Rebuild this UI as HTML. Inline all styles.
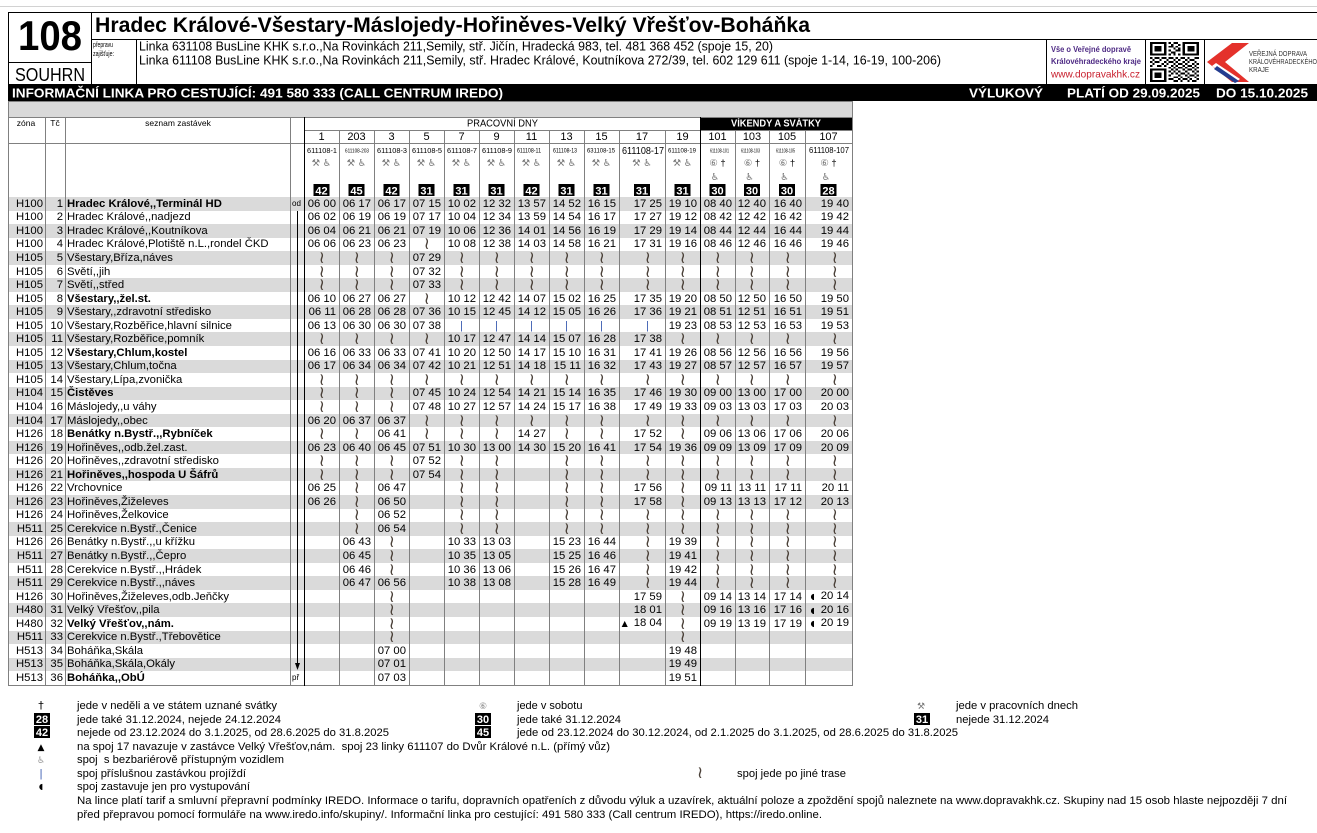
<!DOCTYPE html>
<html><head><meta charset="utf-8">
<style>
html,body{margin:0;padding:0}
body{width:1317px;height:833px;position:relative;background:#fff;overflow:hidden;font-family:"Liberation Sans","DejaVu Sans","Noto Sans CJK JP",sans-serif;color:#000}
table.t{position:absolute;left:8px;top:197px;width:844px;border-collapse:collapse;border-spacing:0;table-layout:fixed;font-size:11.3px;line-height:12px}
.t td{padding:0 3px 0 0;height:13.556px;text-align:right;white-space:nowrap;vertical-align:middle;overflow:visible}
.t tr:nth-child(odd){background:#dadada}
.t td.z{padding-right:2px}
.t td.n{padding-right:2px}
.t td.s{text-align:left;padding-left:2px;padding-right:0}
.t td.o{text-align:left;padding-left:2px;font-size:8px}
.t td.c{padding-right:14px;font-size:17px;line-height:12px;font-family:"DejaVu Sans","Liberation Sans",sans-serif;color:#4a4038}
.t td.p{padding-right:16px;color:#3a5bb0;font-size:11px}
.t b{font-weight:bold}
.h{font-size:8px;margin-right:6px;font-family:"DejaVu Sans",sans-serif}
.tri{font-size:8px;margin-right:6px;font-family:"DejaVu Sans",sans-serif}
svg.o{position:absolute;left:0;top:0}
svg text{font-family:"Liberation Sans","DejaVu Sans","Noto Sans CJK JP",sans-serif}
.sym{font-family:"DejaVu Sans","Noto Sans CJK JP",sans-serif}
</style></head><body>

<table class="t">
<colgroup><col style="width:37px"><col style="width:20px"><col style="width:225px"><col style="width:14px"><col style="width:35px"><col style="width:35px"><col style="width:35px"><col style="width:35px"><col style="width:35px"><col style="width:35px"><col style="width:35px"><col style="width:35px"><col style="width:35px"><col style="width:46px"><col style="width:35px"><col style="width:35px"><col style="width:34px"><col style="width:36px"><col style="width:47px"></colgroup>
<tr><td class=z>H100<td class=n>1<td class=s><b>Hradec Králové,,Terminál HD</b><td class=o>od<td>06 00<td>06 17<td>06 17<td>07 15<td>10 02<td>12 32<td>13 57<td>14 52<td>16 15<td>17 25<td>19 10<td>08 40<td>12 40<td>16 40<td>19 40</tr>
<tr><td class=z>H100<td class=n>2<td class=s>Hradec Králové,,nadjezd<td class=o><td>06 02<td>06 19<td>06 19<td>07 17<td>10 04<td>12 34<td>13 59<td>14 54<td>16 17<td>17 27<td>19 12<td>08 42<td>12 42<td>16 42<td>19 42</tr>
<tr><td class=z>H100<td class=n>3<td class=s>Hradec Králové,,Koutníkova<td class=o><td>06 04<td>06 21<td>06 21<td>07 19<td>10 06<td>12 36<td>14 01<td>14 56<td>16 19<td>17 29<td>19 14<td>08 44<td>12 44<td>16 44<td>19 44</tr>
<tr><td class=z>H100<td class=n>4<td class=s>Hradec Králové,Plotiště n.L.,rondel ČKD<td class=o><td>06 06<td>06 23<td>06 23<td class=c>≀<td>10 08<td>12 38<td>14 03<td>14 58<td>16 21<td>17 31<td>19 16<td>08 46<td>12 46<td>16 46<td>19 46</tr>
<tr><td class=z>H105<td class=n>5<td class=s>Všestary,Bříza,náves<td class=o><td class=c>≀<td class=c>≀<td class=c>≀<td>07 29<td class=c>≀<td class=c>≀<td class=c>≀<td class=c>≀<td class=c>≀<td class=c>≀<td class=c>≀<td class=c>≀<td class=c>≀<td class=c>≀<td class=c>≀</tr>
<tr><td class=z>H105<td class=n>6<td class=s>Světí,,jih<td class=o><td class=c>≀<td class=c>≀<td class=c>≀<td>07 32<td class=c>≀<td class=c>≀<td class=c>≀<td class=c>≀<td class=c>≀<td class=c>≀<td class=c>≀<td class=c>≀<td class=c>≀<td class=c>≀<td class=c>≀</tr>
<tr><td class=z>H105<td class=n>7<td class=s>Světí,,střed<td class=o><td class=c>≀<td class=c>≀<td class=c>≀<td>07 33<td class=c>≀<td class=c>≀<td class=c>≀<td class=c>≀<td class=c>≀<td class=c>≀<td class=c>≀<td class=c>≀<td class=c>≀<td class=c>≀<td class=c>≀</tr>
<tr><td class=z>H105<td class=n>8<td class=s><b>Všestary,,žel.st.</b><td class=o><td>06 10<td>06 27<td>06 27<td class=c>≀<td>10 12<td>12 42<td>14 07<td>15 02<td>16 25<td>17 35<td>19 20<td>08 50<td>12 50<td>16 50<td>19 50</tr>
<tr><td class=z>H105<td class=n>9<td class=s>Všestary,,zdravotní středisko<td class=o><td>06 11<td>06 28<td>06 28<td>07 36<td>10 15<td>12 45<td>14 12<td>15 05<td>16 26<td>17 36<td>19 21<td>08 51<td>12 51<td>16 51<td>19 51</tr>
<tr><td class=z>H105<td class=n>10<td class=s>Všestary,Rozběřice,hlavní silnice<td class=o><td>06 13<td>06 30<td>06 30<td>07 38<td class=p>|<td class=p>|<td class=p>|<td class=p>|<td class=p>|<td class=p>|<td>19 23<td>08 53<td>12 53<td>16 53<td>19 53</tr>
<tr><td class=z>H105<td class=n>11<td class=s>Všestary,Rozběřice,pomník<td class=o><td class=c>≀<td class=c>≀<td class=c>≀<td class=c>≀<td>10 17<td>12 47<td>14 14<td>15 07<td>16 28<td>17 38<td class=c>≀<td class=c>≀<td class=c>≀<td class=c>≀<td class=c>≀</tr>
<tr><td class=z>H105<td class=n>12<td class=s><b>Všestary,Chlum,kostel</b><td class=o><td>06 16<td>06 33<td>06 33<td>07 41<td>10 20<td>12 50<td>14 17<td>15 10<td>16 31<td>17 41<td>19 26<td>08 56<td>12 56<td>16 56<td>19 56</tr>
<tr><td class=z>H105<td class=n>13<td class=s>Všestary,Chlum,točna<td class=o><td>06 17<td>06 34<td>06 34<td>07 42<td>10 21<td>12 51<td>14 18<td>15 11<td>16 32<td>17 43<td>19 27<td>08 57<td>12 57<td>16 57<td>19 57</tr>
<tr><td class=z>H105<td class=n>14<td class=s>Všestary,Lípa,zvonička<td class=o><td class=c>≀<td class=c>≀<td class=c>≀<td class=c>≀<td class=c>≀<td class=c>≀<td class=c>≀<td class=c>≀<td class=c>≀<td class=c>≀<td class=c>≀<td class=c>≀<td class=c>≀<td class=c>≀<td class=c>≀</tr>
<tr><td class=z>H104<td class=n>15<td class=s><b>Čistěves</b><td class=o><td class=c>≀<td class=c>≀<td class=c>≀<td>07 45<td>10 24<td>12 54<td>14 21<td>15 14<td>16 35<td>17 46<td>19 30<td>09 00<td>13 00<td>17 00<td>20 00</tr>
<tr><td class=z>H104<td class=n>16<td class=s>Máslojedy,,u váhy<td class=o><td class=c>≀<td class=c>≀<td class=c>≀<td>07 48<td>10 27<td>12 57<td>14 24<td>15 17<td>16 38<td>17 49<td>19 33<td>09 03<td>13 03<td>17 03<td>20 03</tr>
<tr><td class=z>H104<td class=n>17<td class=s>Máslojedy,,obec<td class=o><td>06 20<td>06 37<td>06 37<td class=c>≀<td class=c>≀<td class=c>≀<td class=c>≀<td class=c>≀<td class=c>≀<td class=c>≀<td class=c>≀<td class=c>≀<td class=c>≀<td class=c>≀<td class=c>≀</tr>
<tr><td class=z>H126<td class=n>18<td class=s><b>Benátky n.Bystř.,,Rybníček</b><td class=o><td class=c>≀<td class=c>≀<td>06 41<td class=c>≀<td class=c>≀<td class=c>≀<td>14 27<td class=c>≀<td class=c>≀<td>17 52<td class=c>≀<td>09 06<td>13 06<td>17 06<td>20 06</tr>
<tr><td class=z>H126<td class=n>19<td class=s>Hořiněves,,odb.žel.zast.<td class=o><td>06 23<td>06 40<td>06 45<td>07 51<td>10 30<td>13 00<td>14 30<td>15 20<td>16 41<td>17 54<td>19 36<td>09 09<td>13 09<td>17 09<td>20 09</tr>
<tr><td class=z>H126<td class=n>20<td class=s>Hořiněves,,zdravotní středisko<td class=o><td class=c>≀<td class=c>≀<td class=c>≀<td>07 52<td class=c>≀<td class=c>≀<td><td class=c>≀<td class=c>≀<td class=c>≀<td class=c>≀<td class=c>≀<td class=c>≀<td class=c>≀<td class=c>≀</tr>
<tr><td class=z>H126<td class=n>21<td class=s><b>Hořiněves,,hospoda U Šáfrů</b><td class=o><td class=c>≀<td class=c>≀<td class=c>≀<td>07 54<td class=c>≀<td class=c>≀<td><td class=c>≀<td class=c>≀<td class=c>≀<td class=c>≀<td class=c>≀<td class=c>≀<td class=c>≀<td class=c>≀</tr>
<tr><td class=z>H126<td class=n>22<td class=s>Vrchovnice<td class=o><td>06 25<td class=c>≀<td>06 47<td><td class=c>≀<td class=c>≀<td><td class=c>≀<td class=c>≀<td>17 56<td class=c>≀<td>09 11<td>13 11<td>17 11<td>20 11</tr>
<tr><td class=z>H126<td class=n>23<td class=s>Hořiněves,Žiželeves<td class=o><td>06 26<td class=c>≀<td>06 50<td><td class=c>≀<td class=c>≀<td><td class=c>≀<td class=c>≀<td>17 58<td class=c>≀<td>09 13<td>13 13<td>17 12<td>20 13</tr>
<tr><td class=z>H126<td class=n>24<td class=s>Hořiněves,Želkovice<td class=o><td><td class=c>≀<td>06 52<td><td class=c>≀<td class=c>≀<td><td class=c>≀<td class=c>≀<td class=c>≀<td class=c>≀<td class=c>≀<td class=c>≀<td class=c>≀<td class=c>≀</tr>
<tr><td class=z>H511<td class=n>25<td class=s>Cerekvice n.Bystř.,Čenice<td class=o><td><td class=c>≀<td>06 54<td><td class=c>≀<td class=c>≀<td><td class=c>≀<td class=c>≀<td class=c>≀<td class=c>≀<td class=c>≀<td class=c>≀<td class=c>≀<td class=c>≀</tr>
<tr><td class=z>H126<td class=n>26<td class=s>Benátky n.Bystř.,,u křížku<td class=o><td><td>06 43<td class=c>≀<td><td>10 33<td>13 03<td><td>15 23<td>16 44<td class=c>≀<td>19 39<td class=c>≀<td class=c>≀<td class=c>≀<td class=c>≀</tr>
<tr><td class=z>H511<td class=n>27<td class=s>Benátky n.Bystř.,,Čepro<td class=o><td><td>06 45<td class=c>≀<td><td>10 35<td>13 05<td><td>15 25<td>16 46<td class=c>≀<td>19 41<td class=c>≀<td class=c>≀<td class=c>≀<td class=c>≀</tr>
<tr><td class=z>H511<td class=n>28<td class=s>Cerekvice n.Bystř.,,Hrádek<td class=o><td><td>06 46<td class=c>≀<td><td>10 36<td>13 06<td><td>15 26<td>16 47<td class=c>≀<td>19 42<td class=c>≀<td class=c>≀<td class=c>≀<td class=c>≀</tr>
<tr><td class=z>H511<td class=n>29<td class=s>Cerekvice n.Bystř.,,náves<td class=o><td><td>06 47<td>06 56<td><td>10 38<td>13 08<td><td>15 28<td>16 49<td class=c>≀<td>19 44<td class=c>≀<td class=c>≀<td class=c>≀<td class=c>≀</tr>
<tr><td class=z>H126<td class=n>30<td class=s>Hořiněves,Žiželeves,odb.Jeňčky<td class=o><td><td><td class=c>≀<td><td><td><td><td><td><td>17 59<td class=c>≀<td>09 14<td>13 14<td>17 14<td><span class=h>◖</span>20 14</tr>
<tr><td class=z>H480<td class=n>31<td class=s>Velký Vřešťov,,pila<td class=o><td><td><td class=c>≀<td><td><td><td><td><td><td>18 01<td class=c>≀<td>09 16<td>13 16<td>17 16<td><span class=h>◖</span>20 16</tr>
<tr><td class=z>H480<td class=n>32<td class=s><b>Velký Vřešťov,,nám.</b><td class=o><td><td><td class=c>≀<td><td><td><td><td><td><td><span class=tri>▲</span>18 04<td class=c>≀<td>09 19<td>13 19<td>17 19<td><span class=h>◖</span>20 19</tr>
<tr><td class=z>H511<td class=n>33<td class=s>Cerekvice n.Bystř.,Třebovětice<td class=o><td><td><td class=c>≀<td><td><td><td><td><td><td><td class=c>≀<td><td><td><td></tr>
<tr><td class=z>H513<td class=n>34<td class=s>Boháňka,Skála<td class=o><td><td><td>07 00<td><td><td><td><td><td><td><td>19 48<td><td><td><td></tr>
<tr><td class=z>H513<td class=n>35<td class=s>Boháňka,Skála,Okály<td class=o><td><td><td>07 01<td><td><td><td><td><td><td><td>19 49<td><td><td><td></tr>
<tr><td class=z>H513<td class=n>36<td class=s><b>Boháňka,,ObÚ</b><td class=o>př<td><td><td>07 03<td><td><td><td><td><td><td><td>19 51<td><td><td><td></tr>
</table>

<svg class="o" width="1317" height="833" viewBox="0 0 1317 833" xmlns="http://www.w3.org/2000/svg">
<g shape-rendering="crispEdges">
<line x1="0" y1="6.5" x2="1317" y2="6.5" stroke="#d2d2d2"/>
<line x1="8" y1="12.5" x2="1317" y2="12.5" stroke="#000"/>
<line x1="8.5" y1="12" x2="8.5" y2="84" stroke="#000"/>
<line x1="91.5" y1="12" x2="91.5" y2="84" stroke="#000"/>
<line x1="8" y1="62.5" x2="91" y2="62.5" stroke="#000"/>
<line x1="91" y1="39.5" x2="1317" y2="39.5" stroke="#000"/>
<line x1="136.5" y1="39" x2="136.5" y2="84" stroke="#000"/>
<line x1="1046.5" y1="39" x2="1046.5" y2="84" stroke="#000"/>
<line x1="1145.5" y1="39" x2="1145.5" y2="84" stroke="#000"/>
<line x1="1204.5" y1="39" x2="1204.5" y2="84" stroke="#000"/>
<rect x="8" y="84" width="1309" height="17" fill="#000"/>
<rect x="8.5" y="101.5" width="844" height="16" fill="#d9d9d9" stroke="#808080"/>
<rect x="700" y="117" width="152" height="13" fill="#000"/>
</g>

<text x="18" y="50" font-size="42" font-weight="bold" textLength="64" lengthAdjust="spacingAndGlyphs">108</text>
<text x="15" y="81" font-size="18" textLength="70" lengthAdjust="spacingAndGlyphs">SOUHRN</text>
<text x="95" y="32" font-size="21" font-weight="bold" textLength="715" lengthAdjust="spacingAndGlyphs">Hradec Králové-Všestary-Máslojedy-Hořiněves-Velký Vřešťov-Boháňka</text>
<text x="93" y="47" font-size="7.5" textLength="20" lengthAdjust="spacingAndGlyphs">přepravu</text>
<text x="93" y="56" font-size="7.5" textLength="21" lengthAdjust="spacingAndGlyphs">zajišťuje:</text>
<text x="139" y="50.5" font-size="12.5" textLength="634" lengthAdjust="spacingAndGlyphs">Linka 631108 BusLine KHK s.r.o.,Na Rovinkách 211,Semily, stř. Jičín, Hradecká 983, tel. 481 368 452 (spoje 15, 20)</text>
<text x="139" y="64.5" font-size="12.5" textLength="802" lengthAdjust="spacingAndGlyphs">Linka 611108 BusLine KHK s.r.o.,Na Rovinkách 211,Semily, stř. Hradec Králové, Koutníkova 272/39, tel. 602 129 611 (spoje 1-14, 16-19, 100-206)</text>
<text x="1051" y="52" font-size="8" font-weight="bold" fill="#4e2a84" textLength="80" lengthAdjust="spacingAndGlyphs">Vše o Veřejné dopravě</text>
<text x="1051" y="64" font-size="8" font-weight="bold" fill="#4e2a84" textLength="90" lengthAdjust="spacingAndGlyphs">Královéhradeckého kraje</text>
<text x="1051" y="77.5" font-size="10.5" fill="#c8202e" textLength="89" lengthAdjust="spacingAndGlyphs">www.dopravakhk.cz</text>

<svg x="1150" y="42" width="49" height="40" viewBox="0 0 21 21" preserveAspectRatio="none" shape-rendering="crispEdges">
<rect width="21" height="21" fill="#fff"/>
<path fill="#000" fill-rule="evenodd" d="M0 0h7v7H0z M1 1v5h5V1z M2 2h3v3H2z M14 0h7v7h-7z M15 1v5h5V1z M16 2h3v3h-3z M0 14h7v7H0z M1 15v5h5v-5z M2 16h3v3H2z"/>
<path fill="#000" d="M8 0h1v1H8z M10 0h2v1h-2z M9 1h1v1H9z M12 1h1v1h-1z M8 2h2v1H8z M11 2h1v1h-1z M10 3h1v1h-1z M12 3h1v1h-1z M8 4h1v1H8z M11 4h2v1h-2z M9 5h2v1H9z M8 6h1v1H8z M10 6h1v1h-1z M12 6h1v1h-1z M0 8h1v1H0z M2 8h2v1H2z M5 8h2v1H5z M8 8h2v1H8z M11 8h1v1h-1z M13 8h2v1h-2z M16 8h1v1h-1z M19 8h2v1h-2z M1 9h1v1H1z M4 9h1v1H4z M7 9h1v1H7z M10 9h1v1h-1z M12 9h1v1h-1z M15 9h1v1h-1z M17 9h2v1h-2z M0 10h1v1H0z M2 10h2v1H2z M6 10h1v1H6z M8 10h2v1H8z M11 10h1v1h-1z M14 10h1v1h-1z M16 10h1v1h-1z M19 10h1v1h-1z M1 11h1v1H1z M5 11h1v1H5z M7 11h1v1H7z M10 11h1v1h-1z M12 11h2v1h-2z M15 11h1v1h-1z M18 11h1v1h-1z M20 11h1v1h-1z M0 12h1v1H0z M3 12h2v1H3z M6 12h1v1H6z M9 12h1v1H9z M11 12h1v1h-1z M14 12h1v1h-1z M16 12h2v1h-2z M19 12h1v1h-1z M8 13h1v1H8z M10 13h1v1h-1z M12 13h2v1h-2z M15 13h1v1h-1z M18 13h1v1h-1z M20 13h1v1h-1z M9 14h1v1H9z M11 14h1v1h-1z M14 14h1v1h-1z M16 14h2v1h-2z M19 14h1v1h-1z M8 15h1v1H8z M10 15h1v1h-1z M12 15h1v1h-1z M15 15h1v1h-1z M18 15h1v1h-1z M20 15h1v1h-1z M9 16h1v1H9z M11 16h1v1h-1z M13 16h2v1h-2z M16 16h1v1h-1z M19 16h1v1h-1z M8 17h1v1H8z M12 17h1v1h-1z M15 17h1v1h-1z M17 17h2v1h-2z M20 17h1v1h-1z M10 18h2v1h-2z M13 18h1v1h-1z M16 18h1v1h-1z M19 18h1v1h-1z M8 19h2v1H8z M12 19h1v1h-1z M14 19h2v1h-2z M17 19h1v1h-1z M20 19h1v1h-1z M10 20h2v1h-2z M13 20h1v1h-1z M16 20h1v1h-1z M18 20h2v1h-2z"/>
</svg>

<polygon points="1232,43 1249,43 1225,62 1249,82 1232,82 1207,62" fill="#e4312b"/>
<polygon points="1212,66 1216,63 1240,79 1236,82" fill="#fff"/>
<polygon points="1214,69 1217,66 1239,81 1235,83" fill="#243c8f"/>
<text x="1249" y="56" font-size="7" fill="#333" textLength="58" lengthAdjust="spacingAndGlyphs">VEŘEJNÁ DOPRAVA</text>
<text x="1249" y="64" font-size="7" fill="#333" textLength="68" lengthAdjust="spacingAndGlyphs">KRÁLOVÉHRADECKÉHO</text>
<text x="1249" y="72" font-size="7" fill="#333" textLength="20" lengthAdjust="spacingAndGlyphs">KRAJE</text>

<text x="12" y="97.5" font-size="13" font-weight="bold" fill="#fff" textLength="491" lengthAdjust="spacingAndGlyphs">INFORMAČNÍ LINKA PRO CESTUJÍCÍ: 491 580 333 (CALL CENTRUM IREDO)</text>
<text x="969" y="97.5" font-size="13" font-weight="bold" fill="#fff" textLength="74" lengthAdjust="spacingAndGlyphs">VÝLUKOVÝ</text>
<text x="1067" y="97.5" font-size="13" font-weight="bold" fill="#fff" textLength="133" lengthAdjust="spacingAndGlyphs">PLATÍ OD 29.09.2025</text>
<text x="1216" y="97.5" font-size="13" font-weight="bold" fill="#fff" textLength="92" lengthAdjust="spacingAndGlyphs">DO 15.10.2025</text>

<g font-size="8.5" text-anchor="middle">
<text x="26" y="126">zóna</text>
<text x="55" y="126">Tč</text>
<text x="178" y="126">seznam zastávek</text>
</g>
<text x="467" y="126.5" font-size="10" textLength="71" lengthAdjust="spacingAndGlyphs">PRACOVNÍ DNY</text>
<text x="731" y="126.5" font-size="10" font-weight="bold" fill="#fff" textLength="90" lengthAdjust="spacingAndGlyphs">VÍKENDY A SVÁTKY</text>
<g font-size="11" text-anchor="middle">
<text x="321.5" y="140">1</text><text x="356.5" y="140">203</text><text x="391.5" y="140">3</text><text x="426.5" y="140">5</text><text x="461.5" y="140">7</text><text x="496.5" y="140">9</text><text x="531.5" y="140">11</text><text x="566.5" y="140">13</text><text x="601.5" y="140">15</text><text x="642" y="140">17</text><text x="682.5" y="140">19</text><text x="717.5" y="140">101</text><text x="752" y="140">103</text><text x="787" y="140">105</text><text x="828.5" y="140">107</text>
</g>
<g>
<text x="307" y="153" font-size="7.5" textLength="30" lengthAdjust="spacingAndGlyphs">611108-1</text>
<text x="345" y="152.5" font-size="5" textLength="24" lengthAdjust="spacingAndGlyphs">611108-203</text>
<text x="377" y="153" font-size="7.5" textLength="30" lengthAdjust="spacingAndGlyphs">611108-3</text>
<text x="412" y="153" font-size="7.5" textLength="30" lengthAdjust="spacingAndGlyphs">611108-5</text>
<text x="447" y="153" font-size="7.5" textLength="30" lengthAdjust="spacingAndGlyphs">611108-7</text>
<text x="482" y="153" font-size="7.5" textLength="30" lengthAdjust="spacingAndGlyphs">611108-9</text>
<text x="517" y="152.5" font-size="6" textLength="24" lengthAdjust="spacingAndGlyphs">611108-11</text>
<text x="553" y="152.5" font-size="6" textLength="24" lengthAdjust="spacingAndGlyphs">611108-13</text>
<text x="587" y="152.5" font-size="6" textLength="28" lengthAdjust="spacingAndGlyphs">631108-15</text>
<text x="622" y="154" font-size="10" textLength="42" lengthAdjust="spacingAndGlyphs">611108-17</text>
<text x="668" y="152.5" font-size="6" textLength="28" lengthAdjust="spacingAndGlyphs">611108-19</text>
<text x="710" y="152.5" font-size="5" textLength="19" lengthAdjust="spacingAndGlyphs">611108-101</text>
<text x="741" y="152.5" font-size="5" textLength="19" lengthAdjust="spacingAndGlyphs">611108-103</text>
<text x="776" y="152.5" font-size="5" textLength="19" lengthAdjust="spacingAndGlyphs">611108-105</text>
<text x="809" y="153" font-size="8" textLength="40" lengthAdjust="spacingAndGlyphs">611108-107</text>
</g>
<g class="sym" font-size="9.5" fill="#777" text-anchor="middle">
<text x="321.5" y="166">⚒ ♿</text><text x="356.5" y="166">⚒ ♿</text><text x="391.5" y="166">⚒ ♿</text><text x="426.5" y="166">⚒ ♿</text><text x="461.5" y="166">⚒ ♿</text><text x="496.5" y="166">⚒ ♿</text><text x="531.5" y="166">⚒ ♿</text><text x="566.5" y="166">⚒ ♿</text><text x="601.5" y="166">⚒ ♿</text><text x="642" y="166">⚒ ♿</text><text x="682.5" y="166">⚒ ♿</text>
<text x="717.5" y="166">⑥ <tspan fill="#000">†</tspan></text><text x="752" y="166">⑥ <tspan fill="#000">†</tspan></text><text x="787" y="166">⑥ <tspan fill="#000">†</tspan></text><text x="828.5" y="166">⑥ <tspan fill="#000">†</tspan></text>
<text x="715" y="180">♿</text><text x="749.5" y="180">♿</text><text x="784.5" y="180">♿</text><text x="826" y="180">♿</text>
</g>
<g shape-rendering="crispEdges" fill="#000">
<rect x="313.5" y="184" width="16" height="12"/><rect x="348.5" y="184" width="16" height="12"/><rect x="383.5" y="184" width="16" height="12"/><rect x="418.5" y="184" width="16" height="12"/><rect x="453.5" y="184" width="16" height="12"/><rect x="488.5" y="184" width="16" height="12"/><rect x="523.5" y="184" width="16" height="12"/><rect x="558.5" y="184" width="16" height="12"/><rect x="593.5" y="184" width="16" height="12"/><rect x="634" y="184" width="16" height="12"/><rect x="674.5" y="184" width="16" height="12"/><rect x="709.5" y="184" width="16" height="12"/><rect x="744" y="184" width="16" height="12"/><rect x="779" y="184" width="16" height="12"/><rect x="820.5" y="184" width="16" height="12"/>
</g>
<g font-size="11" font-weight="bold" fill="#fff" text-anchor="middle">
<text x="321.5" y="194.5">42</text><text x="356.5" y="194.5">45</text><text x="391.5" y="194.5">42</text><text x="426.5" y="194.5">31</text><text x="461.5" y="194.5">31</text><text x="496.5" y="194.5">31</text><text x="531.5" y="194.5">42</text><text x="566.5" y="194.5">31</text><text x="601.5" y="194.5">31</text><text x="642" y="194.5">31</text><text x="682.5" y="194.5">31</text><text x="717.5" y="194.5">30</text><text x="752" y="194.5">30</text><text x="787" y="194.5">30</text><text x="828.5" y="194.5">28</text>
</g>

<g shape-rendering="crispEdges" stroke="#808080">
<line x1="8.5" y1="101" x2="8.5" y2="686"/>
<line x1="45.5" y1="117" x2="45.5" y2="686"/>
<line x1="65.5" y1="117" x2="65.5" y2="686"/>
<line x1="290.5" y1="117" x2="290.5" y2="686"/>
<line x1="339.5" y1="130" x2="339.5" y2="686"/>
<line x1="374.5" y1="130" x2="374.5" y2="686"/>
<line x1="409.5" y1="130" x2="409.5" y2="686"/>
<line x1="444.5" y1="130" x2="444.5" y2="686"/>
<line x1="479.5" y1="130" x2="479.5" y2="686"/>
<line x1="514.5" y1="130" x2="514.5" y2="686"/>
<line x1="549.5" y1="130" x2="549.5" y2="686"/>
<line x1="584.5" y1="130" x2="584.5" y2="686"/>
<line x1="619.5" y1="130" x2="619.5" y2="686"/>
<line x1="665.5" y1="130" x2="665.5" y2="686"/>
<line x1="735.5" y1="130" x2="735.5" y2="686"/>
<line x1="769.5" y1="130" x2="769.5" y2="686"/>
<line x1="805.5" y1="130" x2="805.5" y2="686"/>
<line x1="852.5" y1="101" x2="852.5" y2="686"/>
<line x1="8" y1="117.5" x2="853" y2="117.5"/>
<line x1="304" y1="130.5" x2="853" y2="130.5"/>
<line x1="8" y1="143.5" x2="853" y2="143.5"/>
<line x1="8" y1="685.5" x2="853" y2="685.5"/>
</g>
<g shape-rendering="crispEdges" stroke="#000">
<line x1="304.5" y1="117" x2="304.5" y2="686" stroke-width="1.3"/>
<line x1="700.5" y1="117" x2="700.5" y2="686" stroke-width="1.3"/>
<line x1="297.5" y1="211" x2="297.5" y2="665"/>
</g>
<polygon points="295,663 300,663 297.5,670" fill="#000"/>

<g font-size="11">
<text class="sym" x="41" y="709" text-anchor="middle">†</text>
<text x="77" y="709" textLength="200" lengthAdjust="spacingAndGlyphs">jede v neděli a ve státem uznané svátky</text>
<text class="sym" x="483" y="709" text-anchor="middle" fill="#888" font-size="9">⑥</text>
<text x="517" y="709">jede v sobotu</text>
<text class="sym" x="921" y="709" text-anchor="middle" fill="#777" font-size="9">⚒</text>
<text x="956" y="709" textLength="122" lengthAdjust="spacingAndGlyphs">jede v pracovních dnech</text>

<rect x="34" y="713" width="16" height="12" fill="#000"/>
<text x="42" y="723" text-anchor="middle" fill="#fff" font-weight="bold">28</text>
<text x="77" y="723" textLength="204" lengthAdjust="spacingAndGlyphs">jede také 31.12.2024, nejede 24.12.2024</text>
<rect x="475" y="713" width="16" height="12" fill="#000"/>
<text x="483" y="723" text-anchor="middle" fill="#fff" font-weight="bold">30</text>
<text x="517" y="723" textLength="104" lengthAdjust="spacingAndGlyphs">jede také 31.12.2024</text>
<rect x="914" y="713" width="16" height="12" fill="#000"/>
<text x="922" y="723" text-anchor="middle" fill="#fff" font-weight="bold">31</text>
<text x="956" y="723" textLength="93" lengthAdjust="spacingAndGlyphs">nejede 31.12.2024</text>

<rect x="34" y="726" width="16" height="12" fill="#000"/>
<text x="42" y="736" text-anchor="middle" fill="#fff" font-weight="bold">42</text>
<text x="77" y="736" textLength="312" lengthAdjust="spacingAndGlyphs">nejede od 23.12.2024 do 3.1.2025, od 28.6.2025 do 31.8.2025</text>
<rect x="475" y="726" width="16" height="12" fill="#000"/>
<text x="483" y="736" text-anchor="middle" fill="#fff" font-weight="bold">45</text>
<text x="517" y="736" textLength="441" lengthAdjust="spacingAndGlyphs">jede od 23.12.2024 do 30.12.2024, od 2.1.2025 do 3.1.2025, od 28.6.2025 do 31.8.2025</text>

<text class="sym" x="41" y="750" text-anchor="middle" font-size="9">▲</text>
<text x="77" y="750" textLength="533" lengthAdjust="spacingAndGlyphs">na spoj 17 navazuje v zastávce Velký Vřešťov,nám.&#160; spoj 23 linky 611107 do Dvůr Králové n.L. (přímý vůz)</text>
<text class="sym" x="41" y="763" text-anchor="middle" font-size="9" fill="#999">♿</text>
<text x="77" y="763" textLength="207" lengthAdjust="spacingAndGlyphs">spoj&#160; s bezbariérově přístupným vozidlem</text>
<text x="41" y="777" text-anchor="middle" fill="#3a5bb0">|</text>
<text x="77" y="777" textLength="169" lengthAdjust="spacingAndGlyphs">spoj příslušnou zastávkou projíždí</text>
<text class="sym" x="700" y="778" text-anchor="middle" font-size="17" fill="#4a4038">≀</text>
<text x="737" y="777" textLength="109" lengthAdjust="spacingAndGlyphs">spoj jede po jiné trase</text>
<text class="sym" x="41" y="789" text-anchor="middle" font-size="8">◖</text>
<text x="77" y="790" textLength="173" lengthAdjust="spacingAndGlyphs">spoj zastavuje jen pro vystupování</text>
<text x="77" y="804" textLength="1210" lengthAdjust="spacingAndGlyphs">Na lince platí tarif a smluvní přepravní podmínky IREDO. Informace o tarifu, dopravních opatřeních z důvodu výluk a uzavírek, aktuální poloze a zpoždění spojů naleznete na www.dopravakhk.cz. Skupiny nad 15 osob hlaste nejpozději 7 dní</text>
<text x="77" y="818" textLength="745" lengthAdjust="spacingAndGlyphs">před přepravou pomocí formuláře na www.iredo.info/skupiny/. Informační linka pro cestující: 491 580 333 (Call centrum IREDO), https://iredo.online.</text>
</g>
</svg>
</body></html>
